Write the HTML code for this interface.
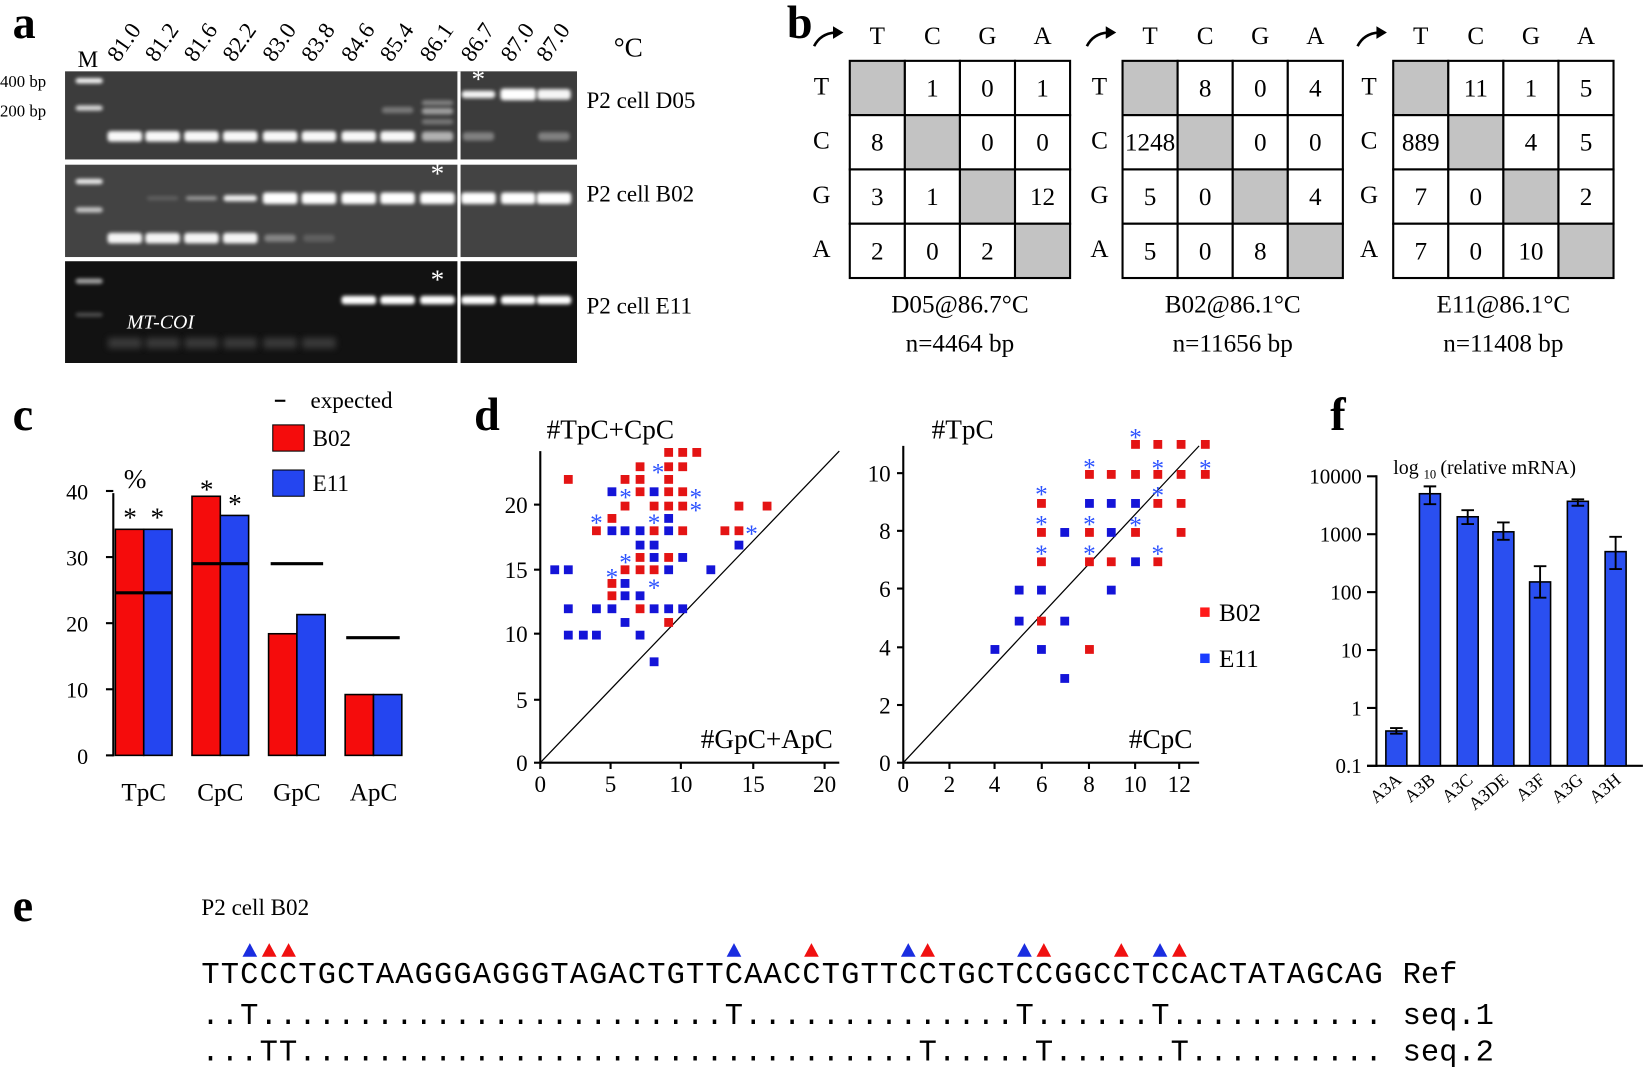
<!DOCTYPE html>
<html><head><meta charset="utf-8"><style>
html,body{margin:0;padding:0;background:#fff;}
svg{display:block;}
text{font-family:"Liberation Serif",serif;}
text.mono{font-family:"Liberation Mono",monospace;}
</style></head><body>
<svg id="s" xmlns="http://www.w3.org/2000/svg" width="1645" height="1068" viewBox="0 0 1568 1018" preserveAspectRatio="none">
<defs>
<filter id="bl" x="-30%" y="-100%" width="160%" height="300%"><feGaussianBlur stdDeviation="1.8"/></filter>
<filter id="bl2" x="-30%" y="-100%" width="160%" height="300%"><feGaussianBlur stdDeviation="3"/></filter>
</defs>
<rect width="1568" height="1018" fill="#fff"/>
<text x="12" y="36" font-size="44" font-weight="bold">a</text>
<text x="750" y="36" font-size="44" font-weight="bold">b</text>
<text x="12" y="410" font-size="44" font-weight="bold">c</text>
<text x="452" y="410" font-size="44" font-weight="bold">d</text>
<text x="1268" y="410" font-size="44" font-weight="bold">f</text>
<text x="12" y="878" font-size="44" font-weight="bold">e</text>

<rect x="62" y="68" width="488" height="84" fill="#3c3c3c"/>
<rect x="62" y="157" width="488" height="88" fill="#434343"/>
<rect x="62" y="249" width="488" height="97" fill="#121212"/>
<rect x="436" y="68" width="3" height="278" fill="#fff"/>
<g id="gel"></g>
<text x="121" y="313" font-size="19" font-style="italic" fill="#fff">MT-COI</text>
<text x="74" y="64" font-size="22">M</text>
<g id="temps" font-size="22"></g>
<text x="585" y="54" font-size="26">°C</text>
<text x="0" y="83" font-size="16">400 bp</text>
<text x="0" y="111" font-size="16">200 bp</text>
<text x="559" y="103" font-size="22">P2 cell D05</text>
<text x="559" y="192" font-size="22">P2 cell B02</text>
<text x="559" y="299" font-size="22">P2 cell E11</text>

<g id="tables" font-size="24"></g>

<g font-size="22">
<line x1="262" y1="382" x2="272" y2="382" stroke="#000" stroke-width="2"/>
<text x="296" y="389">expected</text>
<rect x="260" y="405" width="30" height="25" fill="#f50c0c" stroke="#000"/>
<text x="298" y="425">B02</text>
<rect x="260" y="448" width="30" height="25" fill="#2445f0" stroke="#000"/>
<text x="298" y="468">E11</text>
<text x="118" y="465" font-size="26">%</text>
</g>
<g id="pc"></g>
<g id="pd"></g>
<g id="pf"></g>

<text x="192" y="872" font-size="22">P2 cell B02</text>
<g id="pe" font-size="29"></g>
</svg>
<script>
var NS="http://www.w3.org/2000/svg";
function el(p,t,a,txt){var e=document.createElementNS(NS,t);for(var k in a)e.setAttribute(k,a[k]);if(txt!==undefined)e.textContent=txt;document.getElementById(p).appendChild(e);return e;}
var lanes=[85,119,155,192,229,267,304,342,379,417,456,494,528];
function band(x,y,w,op,h){h=h||7;el('gel','rect',{x:x-w/2,y:y-h/2,width:w,height:h,rx:3,fill:'#fff',opacity:op,filter:'url(#bl)'});}
band(85,77,26,0.95,5);band(85,103,26,0.8,5);
for(var i=1;i<=8;i++)band(lanes[i],130,33,0.97,10);
band(lanes[9],130,30,0.6,9);band(lanes[10],130,30,0.35,8);band(lanes[12],130,30,0.35,8);
band(lanes[8],105,30,0.3,6);band(lanes[9],106,30,0.5,6);band(lanes[9],98,30,0.35,5);band(lanes[9],116,30,0.3,5);
band(lanes[10],90,32,0.95,7);band(lanes[11],90,34,1,11);band(lanes[12],90,32,0.95,10);
band(85,173,26,0.9,5);band(85,200,26,0.7,5);
band(lanes[2],189,30,0.15,4);band(lanes[3],189,30,0.45,4);band(lanes[4],189,32,0.9,6);
for(var i=5;i<=12;i++)band(lanes[i],189,33,1,11);
for(var i=1;i<=4;i++)band(lanes[i],227,33,0.95,10);band(lanes[5],227,30,0.35,7);band(lanes[6],227,30,0.15,7);
band(85,268,26,0.6,5);band(85,300,26,0.25,4);
for(var i=7;i<=12;i++)band(lanes[i],286,33,1,8);
for(var i=1;i<=6;i++)el('gel','rect',{x:lanes[i]-16,y:322,width:32,height:10,fill:'#555',opacity:0.6,filter:'url(#bl2)'});
[[456,84],[417,174],[417,275]].forEach(function(a){el('gel','text',{x:a[0],y:a[1],'font-size':26,fill:'#fff','text-anchor':'middle'},'*');});
var tl=['81.0','81.2','81.6','82.2','83.0','83.8','84.6','85.4','86.1','86.7','87.0','87.0'];
for(var i=0;i<12;i++){var x=lanes[i+1]-6,y=60;el('temps','text',{x:x,y:y,transform:'rotate(-55 '+x+' '+y+')'},tl[i]);}
var T=[{x:810,l:783,d:[[null,1,0,1],[8,null,0,0],[3,1,null,12],[2,0,2,null]],c:'D05@86.7°C',n:'n=4464 bp'},
{x:1070,l:1048,d:[[null,8,0,4],[1248,null,0,0],[5,0,null,4],[5,0,8,null]],c:'B02@86.1°C',n:'n=11656 bp'},
{x:1328,l:1305,d:[[null,11,1,5],[889,null,4,5],[7,0,null,2],[7,0,10,null]],c:'E11@86.1°C',n:'n=11408 bp'}];
var B='TCGA',cw=52.5,rh=51.75,ty=58;
T.forEach(function(t){
 for(var r=0;r<4;r++)for(var c=0;c<4;c++){var v=t.d[r][c];
  el('tables','rect',{x:t.x+c*cw,y:ty+r*rh,width:cw,height:rh,fill:v===null?'#c3c3c3':'#fff',stroke:'#000','stroke-width':2});
  if(v!==null){var a={x:t.x+c*cw+cw/2,y:ty+r*rh+rh/2+8,'text-anchor':'middle'};if(String(v).length>3)a.textLength=48;el('tables','text',a,String(v));}}
 for(var c=0;c<4;c++){el('tables','text',{x:t.x+c*cw+cw/2,y:42,'text-anchor':'middle'},B[c]);el('tables','text',{x:t.l,y:ty+c*rh+rh/2+6,'text-anchor':'middle'},B[c]);}
 el('tables','path',{d:'M'+(t.x-34)+' 44 Q'+(t.x-28)+' 32 '+(t.x-14)+' 31',fill:'none',stroke:'#000','stroke-width':2.5});
 el('tables','path',{d:'M'+(t.x-16)+' 25 L'+(t.x-6)+' 31 L'+(t.x-16)+' 37 Z',fill:'#000'});
 el('tables','text',{x:t.x+105,y:298,'text-anchor':'middle'},t.c);
 el('tables','text',{x:t.x+105,y:335,'text-anchor':'middle'},t.n);
});
function yc(v){return 720-v*6.3;}
el('pc','line',{x1:108,y1:470,x2:108,y2:721,stroke:'#000','stroke-width':2});
[0,10,20,30,40].forEach(function(v){el('pc','line',{x1:101,y1:yc(v),x2:108,y2:yc(v),stroke:'#000','stroke-width':2});el('pc','text',{x:84,y:yc(v)+8,'text-anchor':'end','font-size':21},String(v));});
var bars=[[110,34.2,'#f50c0c'],[137,34.2,'#2445f0'],[183,39.2,'#f50c0c'],[210,36.3,'#2445f0'],[256,18.4,'#f50c0c'],[283,21.3,'#2445f0'],[329,9.2,'#f50c0c'],[356,9.2,'#2445f0']];
bars.forEach(function(b){el('pc','rect',{x:b[0],y:yc(b[1]),width:27,height:720-yc(b[1]),fill:b[2],stroke:'#000','stroke-width':1.5});});
[[110,164,24.6],[183,237,29],[258,308,29],[330,381,17.8]].forEach(function(e){el('pc','line',{x1:e[0],y1:yc(e[2]),x2:e[1],y2:yc(e[2]),stroke:'#000','stroke-width':3});});
[[124,490],[150,490],[197,463],[224,477]].forEach(function(a){el('pc','text',{x:a[0],y:a[1]+12,'text-anchor':'middle','font-size':26},'*');});
[['TpC',137],['CpC',210],['GpC',283],['ApC',356]].forEach(function(a){el('pc','text',{x:a[1],y:763,'text-anchor':'middle','font-size':24},a[0]);});
function dx(z){return 457.6+z*0.4621;}function dy(z){return 400.4+z*0.3178;}
var R='#e41414',Bl='#1414d8',A='#2c52ff';
function axes(x0,y0,top,right,xt,yt,dx2,dy2){
 el('pd','line',{x1:x0,y1:top,x2:x0,y2:y0,stroke:'#000','stroke-width':2});
 el('pd','line',{x1:x0,y1:y0,x2:right,y2:y0,stroke:'#000','stroke-width':2});
 xt.forEach(function(t){el('pd','line',{x1:t[1],y1:y0,x2:t[1],y2:y0+6,stroke:'#000','stroke-width':2});el('pd','text',{x:t[1],y:y0+28,'text-anchor':'middle','font-size':22},t[0]);});
 yt.forEach(function(t){el('pd','line',{x1:x0-6,y1:t[1],x2:x0,y2:t[1],stroke:'#000','stroke-width':2});el('pd','text',{x:x0-12,y:t[1]+8,'text-anchor':'end','font-size':22},t[0]);});
 el('pd','line',{x1:x0,y1:y0,x2:dx2,y2:dy2,stroke:'#000','stroke-width':1.2});
}
axes(515,727,430,800,[['0',515],['5',582],['10',649],['15',718],['20',786]],[['0',727],['5',667],['10',604],['15',543],['20',481]],800,430);
axes(861,727,425,1143,[['0',861],['2',905],['4',948],['6',993],['8',1038],['10',1082],['12',1124]],[['0',727],['2',672],['4',617],['6',561],['8',506],['10',451]],1143,425);
el('pd','text',{x:521,y:418,'font-size':26},'#TpC+CpC');
el('pd','text',{x:888,y:418,'font-size':26},'#TpC');
el('pd','text',{x:668,y:713,'font-size':26},'#GpC+ApC');
el('pd','text',{x:1076,y:713,'font-size':26},'#CpC');
function sq(z,c){el('pd','rect',{x:dx(z[0])-4.2,y:dy(z[1])-4.2,width:8.4,height:8.4,fill:c});}
function ast(z){el('pd','text',{x:dx(z[0]),y:dy(z[1])+13,'text-anchor':'middle','font-size':24,fill:A},'*');}
var lr=[[182,178],[299,178],[330,140],[330,178],[389,97],[418,97],[447,97],[389,140],[418,140],[389,178],[330,215],[389,215],[418,215],[299,258],[359,258],[389,258],[418,258],[272,295],[240,332],[359,332],[418,332],[505,332],[534,332],[534,258],[592,258],[389,412],[330,412],[299,449],[330,449],[359,449],[272,490],[272,527],[330,566],[389,607]];
var lb=[[154,449],[182,449],[182,566],[240,566],[272,566],[359,566],[389,566],[418,566],[182,645],[213,645],[240,645],[299,607],[330,645],[359,725],[299,490],[299,527],[330,527],[389,449],[476,449],[330,375],[359,375],[359,412],[418,412],[272,332],[299,332],[330,332],[389,332],[389,295],[272,215],[359,215],[534,375]];
var la=[[367,140],[300,215],[445,215],[445,255],[240,292],[359,292],[560,325],[300,410],[272,455],[359,487]];
var rr=[[1158,250],[1158,337],[1158,425],[1158,603],[1257,688],[1257,163],[1257,337],[1257,425],[1302,163],[1302,425],[1352,73],[1352,163],[1352,337],[1398,73],[1398,163],[1398,250],[1398,425],[1446,73],[1446,163],[1446,250],[1446,337],[1496,73],[1496,163]];
var rb=[[1062,688],[1112,510],[1112,603],[1158,510],[1158,688],[1206,337],[1206,603],[1206,775],[1257,250],[1302,250],[1302,337],[1302,510],[1352,250],[1352,425]];
var ra=[[1352,35],[1257,125],[1398,128],[1496,128],[1158,207],[1398,210],[1158,297],[1257,297],[1352,300],[1158,385],[1257,385],[1398,385]];
lr.forEach(function(z){sq(z,R);});lb.forEach(function(z){sq(z,Bl);});la.forEach(ast);
rr.forEach(function(z){sq(z,R);});rb.forEach(function(z){sq(z,Bl);});ra.forEach(ast);
el('pd','rect',{x:1144,y:579,width:9,height:9,fill:'#ff1a1a'});el('pd','text',{x:1162,y:592,'font-size':24},'B02');
el('pd','rect',{x:1144,y:623,width:9,height:9,fill:'#1a3cff'});el('pd','text',{x:1162,y:636,'font-size':24},'E11');
function fy(v){return 730-55.2*(Math.log10(v)+1);}
el('pf','line',{x1:1312,y1:453,x2:1312,y2:731,stroke:'#000','stroke-width':2});
el('pf','line',{x1:1303,y1:730,x2:1566,y2:730,stroke:'#000','stroke-width':2});
[['10000',10000],['1000',1000],['100',100],['10',10],['1',1],['0.1',0.1]].forEach(function(t){var y=fy(t[1]);el('pf','line',{x1:1303,y1:y,x2:1312,y2:y,stroke:'#000','stroke-width':2});el('pf','text',{x:1298,y:y+7,'text-anchor':'end','font-size':20},t[0]);});
el('pf','text',{x:1328,y:452,'font-size':19},'log');el('pf','text',{x:1357,y:456,'font-size':12},'10');el('pf','text',{x:1373,y:452,'font-size':19},'(relative mRNA)');
var fb=[['A3A',1321,0.4,0.36,0.45],['A3B',1353,5000,3300,6700],['A3C',1389,2000,1500,2600],['A3DE',1423,1100,800,1600],['A3F',1458,150,80,280],['A3G',1494,3700,3100,4000],['A3H',1530,500,250,900]];
fb.forEach(function(b){var y=fy(b[2]);el('pf','rect',{x:b[1],y:y,width:20,height:730-y,fill:'#2a4ff0',stroke:'#000','stroke-width':1.5});
 var cx=b[1]+10,y1=fy(b[4]),y2=fy(b[3]);el('pf','path',{d:'M'+cx+' '+y1+'V'+y2+'M'+(cx-6)+' '+y1+'H'+(cx+6)+'M'+(cx-6)+' '+y2+'H'+(cx+6),stroke:'#000','stroke-width':1.8,fill:'none'});
 var tx=cx+6,tyy=745;el('pf','text',{x:tx,y:tyy,'text-anchor':'end','font-size':17,transform:'rotate(-40 '+tx+' '+tyy+')'},b[0]);});
var seq='TTCCCTGCTAAGGGAGGGTAGACTGTTCAACCTGTTCCTGCTCCGGCCTCCACTATAGCAG';
var cwid=(1318-192)/61;
function mono(x,y,s,tl){var a={x:x,y:y,'class':'mono'};if(tl){a.textLength=tl;a.lengthAdjust='spacing';}el('pe','text',a,s);}
mono(192,937,seq,1126);mono(1337,937,'Ref');
function mk(pos){var s='';for(var i=0;i<61;i++)s+=(pos.indexOf(i)>=0?'T':'.');return s;}
mono(192,976,mk([2,27,42,49]),1126);mono(1337,976,'seq.1');
mono(192,1011,mk([3,4,37,43,50]),1126);mono(1337,1011,'seq.2');
[[2,'b'],[3,'r'],[4,'r'],[27,'b'],[31,'r'],[36,'b'],[37,'r'],[42,'b'],[43,'r'],[47,'r'],[49,'b'],[50,'r']].forEach(function(t){
 var cx=192+cwid*(t[0]+0.5);el('pe','path',{d:'M'+(cx-7)+' 912L'+(cx+7)+' 912L'+cx+' 899Z',fill:t[1]=='b'?'#1a2de0':'#f01010'});});
</script>
</body></html>
